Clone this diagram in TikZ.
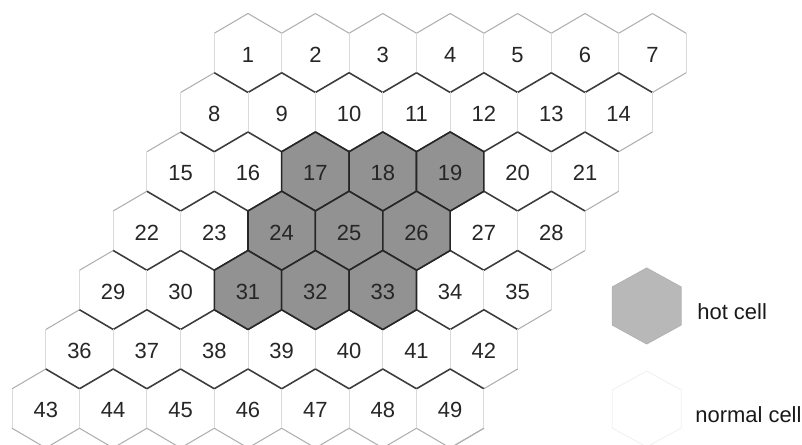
\documentclass[tikz,border=0pt]{standalone}
\usepackage{fontspec}
\setmainfont{Liberation Sans}
\usepackage{tikz}
\definecolor{HotGray}{RGB}{146, 146, 146}
\definecolor{KeyGray}{RGB}{184, 184, 184}
\definecolor{EdgeGray}{RGB}{60, 60, 60}
\definecolor{RimGray}{RGB}{175, 175, 175}
\definecolor{SideGray}{RGB}{218, 218, 218}
\newcommand{\hexr}{39.5}
\newcommand{\hexa}{33.7}
\tikzset{
  zig/.style={draw=EdgeGray, line width=0.9pt, line join=round},
  rim/.style={draw=RimGray, line width=0.6pt, line join=round},
  side/.style={draw=SideGray, line width=0.5pt},
  hot/.style={fill=HotGray, draw=black!85, line width=0.9pt, line join=round},
  num/.style={font=\fontsize{12.5}{14}\selectfont, text=black!85, yshift=-1pt},
  keytext/.style={font=\fontsize{12.5}{14}\selectfont, text=black!90, anchor=west, inner sep=0pt}
}

\begin{document}
\begin{tikzpicture}[x=0.02cm, y=-0.02cm]
\useasboundingbox (0,0) rectangle (802,445);
% cell centres, 7 rows of 7
\foreach \i in {0,...,6}{
  \foreach \j in {0,...,6}{
    \pgfmathtruncatemacro{\n}{7*\i+\j+1}
    \coordinate (c\n) at ({248+2*\hexa*\j-\hexa*\i},{53+1.5*\hexr*\i});
  }
}
% grid edges
\foreach \i in {0,...,6}{
  \foreach \j in {0,...,6}{
    \pgfmathtruncatemacro{\n}{7*\i+\j+1}
    \pgfmathtruncatemacro{\corner}{\i*\j}
    \ifnum\i=0 \def\upstyle{rim}\else\def\upstyle{zig}\fi
    \ifnum\corner=0 \def\ulstyle{rim}\else\def\ulstyle{zig}\fi
    \draw[\ulstyle] (c\n) +(-\hexa,-0.5*\hexr) -- +(0,-\hexr);
    \draw[\upstyle] (c\n) +(0,-\hexr) -- +(\hexa,-0.5*\hexr);
    \draw[side] (c\n) +(-\hexa,-0.5*\hexr) -- +(-\hexa,0.5*\hexr);
    \ifnum\i=6
      \draw[rim] (c\n) +(-\hexa,0.5*\hexr) -- +(0,\hexr) -- +(\hexa,0.5*\hexr);
    \fi
    \ifnum\j=6
      \draw[side] (c\n) +(\hexa,-0.5*\hexr) -- +(\hexa,0.5*\hexr);
      \draw[rim] (c\n) +(\hexa,0.5*\hexr) -- +(0,\hexr);
    \fi
  }
}
% hot cells
\foreach \n in {17,18,19,24,25,26,31,32,33}
  \filldraw[hot] (c\n) +(0,-\hexr) -- +(\hexa,-0.5*\hexr) -- +(\hexa,0.5*\hexr)
    -- +(0,\hexr) -- +(-\hexa,0.5*\hexr) -- +(-\hexa,-0.5*\hexr) -- cycle;
% numbers
\foreach \n in {1,...,49}
  \node[num] (cell\n) at (c\n) {\n};

% legend
\coordinate (hotkey) at (646.7,306);
\coordinate (normalkey) at (646.7,409);
\filldraw[fill=KeyGray, draw=black!30, line width=0.5pt] (hotkey) +(0,-38) -- +(34.5,-19) -- +(34.5,19)
  -- +(0,38) -- +(-34.5,19) -- +(-34.5,-19) -- cycle;
\draw[black!6, line width=0.5pt] (normalkey) +(0,-38) -- +(34.5,-19) -- +(34.5,19)
  -- +(0,38) -- +(-34.5,19) -- +(-34.5,-19) -- cycle;
\node[keytext] (hotlabel) at (697,312) {hot cell};
\node[keytext] (normallabel) at (695,415) {normal cell};
\end{tikzpicture}
\end{document}
